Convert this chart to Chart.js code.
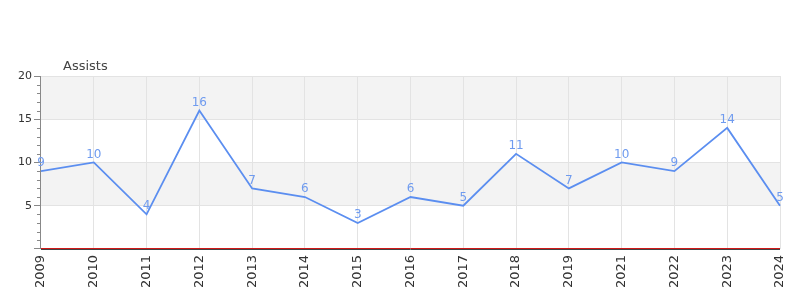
<!DOCTYPE html>
<html>
<head>
<meta charset="utf-8">
<script src="https://cdn.jsdelivr.net/npm/chart.js@4/dist/chart.umd.min.js"></script>
<style>
  html, body { margin: 0; padding: 0; background: #fff; }
  #wrap { width: 800px; height: 300px; }
</style>
</head>
<body>
<div id="wrap"><canvas id="c" width="800" height="300"></canvas></div>
<script>
const categories = ['2009','2010','2011','2012','2013','2014','2015','2016','2017','2018','2019','2021','2022','2023','2024'];
const assists = [9, 10, 4, 16, 7, 6, 3, 6, 5, 11, 7, 10, 9, 14, 5];
const seriesName = 'Assists';
const yMin = 0, yMax = 20, yMajorStep = 5, yMinorStep = 1;

const FONT = "'DejaVu Sans', sans-serif";
const LINE = '#5b8ef0';
const LABEL = '#6f9bef';

const bandsPlugin = {
  id: 'bands',
  beforeDraw(chart) {
    const { ctx, chartArea } = chart;
    const y = chart.scales.y;
    ctx.save();
    ctx.fillStyle = '#f3f3f3';
    for (let v = yMin; v < yMax; v += yMajorStep) {
      if ((v / yMajorStep) % 2 === 1) {
        const top = y.getPixelForValue(v + yMajorStep);
        const bot = y.getPixelForValue(v);
        ctx.fillRect(chartArea.left, top, chartArea.right - chartArea.left, bot - top);
      }
    }
    ctx.restore();
  }
};

const extrasPlugin = {
  id: 'extras',
  afterDraw(chart) {
    const { ctx, chartArea } = chart;
    const y = chart.scales.y;
    ctx.save();
    // minor ticks
    ctx.strokeStyle = '#888';
    ctx.lineWidth = 1;
    for (let v = yMin; v <= yMax; v += yMinorStep) {
      if (v % yMajorStep === 0) continue;
      const py = Math.round(y.getPixelForValue(v)) + 0.5;
      ctx.beginPath();
      ctx.moveTo(chartArea.left - 4, py);
      ctx.lineTo(chartArea.left, py);
      ctx.stroke();
    }
    // base line: red over dark
    const base = Math.round(y.getPixelForValue(yMin));
    ctx.strokeStyle = '#d01818';
    ctx.beginPath();
    ctx.moveTo(chartArea.left, base - 0.5);
    ctx.lineTo(chartArea.right, base - 0.5);
    ctx.stroke();
    ctx.strokeStyle = '#444';
    ctx.beginPath();
    ctx.moveTo(chartArea.left, base + 0.5);
    ctx.lineTo(chartArea.right, base + 0.5);
    ctx.stroke();
    // value labels
    const meta = chart.getDatasetMeta(0);
    ctx.fillStyle = LABEL;
    ctx.font = '12px ' + FONT;
    ctx.textAlign = 'center';
    ctx.textBaseline = 'bottom';
    meta.data.forEach((pt, i) => {
      ctx.fillText(String(assists[i]), pt.x, pt.y - 2);
    });
    // title
    ctx.fillStyle = '#444';
    ctx.font = '13px ' + FONT;
    ctx.textAlign = 'left';
    ctx.textBaseline = 'alphabetic';
    ctx.fillText(seriesName, chartArea.left + 22, chartArea.top - 6);
    ctx.restore();
  }
};

new Chart(document.getElementById('c'), {
  type: 'line',
  data: {
    labels: categories,
    datasets: [{
      label: seriesName,
      data: assists,
      borderColor: LINE,
      borderWidth: 1.8,
      pointRadius: 0,
      pointHoverRadius: 0,
      tension: 0,
      fill: false
    }]
  },
  options: {
    responsive: false,
    animation: false,
    layout: { padding: { top: 76, right: 20, bottom: 6, left: 16 } },
    plugins: {
      legend: { display: false },
      title: { display: false },
      tooltip: { enabled: false }
    },
    scales: {
      x: {
        offset: false,
        afterFit: (scale) => { scale.paddingRight = 0; scale.paddingLeft = 0; },
        grid: {
          color: '#e3e3e3',
          drawTicks: false
        },
        border: { display: false },
        ticks: {
          autoSkip: false,
          maxRotation: 90,
          minRotation: 90,
          padding: 6,
          color: '#333',
          font: { family: FONT, size: 13 }
        }
      },
      y: {
        min: yMin,
        max: yMax,
        grid: {
          color: (c) => (c.tick && c.tick.value % yMajorStep === 0) ? '#e3e3e3' : 'rgba(0,0,0,0)',
          tickColor: (c) => (c.tick && c.tick.value % yMajorStep === 0) ? '#888' : 'rgba(0,0,0,0)',
          tickLength: 7
        },
        border: { color: '#888', width: 1 },
        ticks: {
          stepSize: yMinorStep,
          autoSkip: false,
          padding: 2,
          color: '#333',
          font: { family: FONT, size: 11 },
          callback: (v) => (v % yMajorStep === 0 && v > 0) ? String(v) : ''
        }
      }
    }
  },
  plugins: [bandsPlugin, extrasPlugin]
});
</script>
</body>
</html>
